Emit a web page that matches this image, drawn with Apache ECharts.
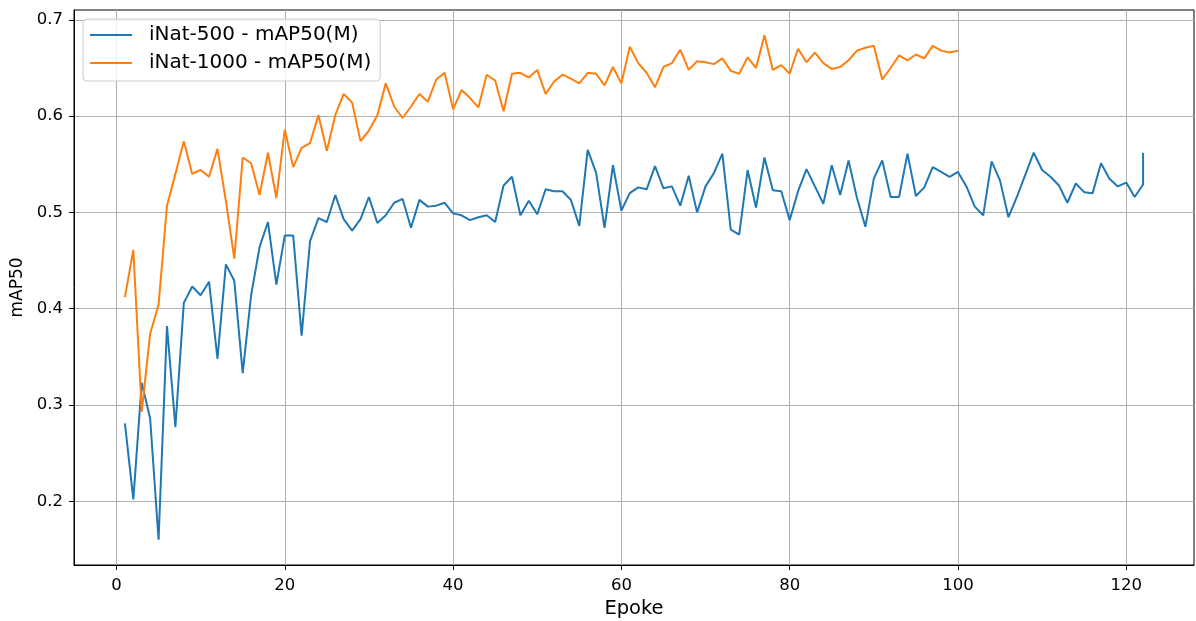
<!DOCTYPE html>
<html>
<head>
<meta charset="utf-8">
<script src="https://cdn.jsdelivr.net/npm/echarts@6/dist/echarts.min.js"></script>
<style>
  html, body { margin: 0; padding: 0; background: #fff; }
  #chart { width: 1196px; height: 621px; }
</style>
</head>
<body>
<div id="chart"></div>
<script>
// Epochs (the 500-image run logs its final epoch twice)
const epochs500 = [
  1,2,3,4,5,6,7,8,9,10,11,12,13,14,15,16,17,18,19,20,
  21,22,23,24,25,26,27,28,29,30,31,32,33,34,35,36,37,38,39,40,
  41,42,43,44,45,46,47,48,49,50,51,52,53,54,55,56,57,58,59,60,
  61,62,63,64,65,66,67,68,69,70,71,72,73,74,75,76,77,78,79,80,
  81,82,83,84,85,86,87,88,89,90,91,92,93,94,95,96,97,98,99,100,
  101,102,103,104,105,106,107,108,109,110,111,112,113,114,115,116,117,118,119,120,
  121,122,122
];
const map500 = [
  0.281,0.202,0.323,0.286,0.160,0.382,0.277,0.406,0.423,0.414,
  0.428,0.348,0.446,0.429,0.333,0.414,0.464,0.490,0.425,0.476,
  0.476,0.372,0.470,0.494,0.490,0.518,0.493,0.481,0.493,0.516,
  0.489,0.497,0.510,0.514,0.484,0.513,0.506,0.507,0.510,0.499,
  0.497,0.492,0.495,0.497,0.490,0.528,0.537,0.497,0.512,0.498,
  0.524,0.522,0.522,0.513,0.486,0.565,0.541,0.484,0.549,0.502,
  0.520,0.526,0.524,0.548,0.525,0.527,0.507,0.538,0.500,0.527,
  0.541,0.561,0.482,0.477,0.544,0.505,0.557,0.523,0.522,0.492,
  0.522,0.545,0.527,0.509,0.549,0.518,0.554,0.515,0.485,0.535,
  0.554,0.516,0.516,0.561,0.517,0.526,0.547,0.542,0.537,0.542,
  0.527,0.506,0.497,0.553,0.533,0.495,0.516,0.539,0.562,0.544,
  0.537,0.528,0.510,0.530,0.521,0.520,0.551,0.535,0.527,0.531,
  0.516,0.529,0.562
];

const epochs1000 = [
  1,2,3,4,5,6,7,8,9,10,11,12,13,14,15,16,17,18,19,20,
  21,22,23,24,25,26,27,28,29,30,31,32,33,34,35,36,37,38,39,40,
  41,42,43,44,45,46,47,48,49,50,51,52,53,54,55,56,57,58,59,60,
  61,62,63,64,65,66,67,68,69,70,71,72,73,74,75,76,77,78,79,80,
  81,82,83,84,85,86,87,88,89,90,91,92,93,94,95,96,97,98,99,100
];
const map1000 = [
  0.412,0.461,0.293,0.374,0.404,0.507,0.540,0.574,0.540,0.544,
  0.537,0.566,0.512,0.452,0.557,0.551,0.518,0.562,0.515,0.586,
  0.547,0.567,0.572,0.601,0.564,0.601,0.623,0.614,0.574,0.585,
  0.601,0.634,0.610,0.598,0.610,0.623,0.615,0.638,0.645,0.607,
  0.627,0.619,0.609,0.643,0.637,0.605,0.644,0.645,0.640,0.648,
  0.623,0.636,0.643,0.639,0.634,0.645,0.644,0.632,0.651,0.634,
  0.672,0.655,0.645,0.630,0.651,0.655,0.669,0.648,0.657,0.656,
  0.654,0.660,0.647,0.644,0.661,0.650,0.684,0.648,0.653,0.644,
  0.670,0.656,0.666,0.655,0.649,0.651,0.658,0.668,0.671,0.673,
  0.638,0.650,0.663,0.658,0.664,0.660,0.673,0.668,0.666,0.668
];

const xTicks = [0, 20, 40, 60, 80, 100, 120];
const yTicks = [0.2, 0.3, 0.4, 0.5, 0.6, 0.7];

const seriesNames = ['iNat-500 - mAP50(M)', 'iNat-1000 - mAP50(M)'];
const xTitle = 'Epoke';
const yTitle = 'mAP50';

const FONT = 'DejaVu Sans';

function pairs(xs, ys) {
  return xs.map((x, i) => [x, ys[i]]);
}

const chart = echarts.init(document.getElementById('chart'), null, { renderer: 'canvas' });

chart.setOption({
  animation: false,
  backgroundColor: '#ffffff',
  grid: {
    left: 74, right: 2, top: 10, bottom: 56,
    outerBoundsMode: 'none',
    containLabel: false,
    show: true, borderColor: '#000', borderWidth: 1, backgroundColor: 'transparent'
  },
  legend: {
    left: 83, top: 19,
    orient: 'vertical',
    data: seriesNames,
    icon: 'rect',
    itemWidth: 42, itemHeight: 2, itemGap: 8,
    padding: [6, 9, 8, 7],
    backgroundColor: 'rgba(255,255,255,0.8)',
    borderColor: '#cccccc', borderWidth: 1, borderRadius: 4,
    textStyle: {
      fontFamily: FONT, fontSize: 20, lineHeight: 20, color: '#000',
      padding: [0, 0, 0, 12]
    }
  },
  xAxis: {
    type: 'value',
    min: -5.05, max: 128.05,
    name: xTitle, nameLocation: 'middle', nameGap: 33,
    nameTextStyle: { fontFamily: FONT, fontSize: 19.5, color: '#000' },
    axisLine: { show: true, onZero: false, lineStyle: { color: '#000', width: 1 } },
    axisTick: { show: true, inside: false, length: 5, customValues: xTicks, lineStyle: { color: '#000', width: 1 } },
    axisLabel: { customValues: xTicks, fontFamily: FONT, fontSize: 16.5, color: '#000', margin: 12 },
    splitLine: { show: true, lineStyle: { color: '#b0b0b0', width: 1 } }
  },
  yAxis: {
    type: 'value',
    min: 0.1338, max: 0.7102,
    name: yTitle, nameLocation: 'middle', nameGap: 48, nameRotate: 90,
    nameTextStyle: { fontFamily: FONT, fontSize: 17, color: '#000' },
    axisLine: { show: true, onZero: false, lineStyle: { color: '#000', width: 1 } },
    axisTick: { show: true, inside: false, length: 5, customValues: yTicks, lineStyle: { color: '#000', width: 1 } },
    axisLabel: {
      customValues: yTicks, fontFamily: FONT, fontSize: 16.5, color: '#000', margin: 11,
      formatter: v => v.toFixed(1)
    },
    splitLine: { show: true, lineStyle: { color: '#b0b0b0', width: 1 } }
  },
  series: [
    {
      name: seriesNames[0], type: 'line',
      data: pairs(epochs500, map500),
      symbol: 'none', color: '#1f77b4',
      lineStyle: { width: 2, color: '#1f77b4' }
    },
    {
      name: seriesNames[1], type: 'line',
      data: pairs(epochs1000, map1000),
      symbol: 'none', color: '#ff7f0e',
      lineStyle: { width: 2, color: '#ff7f0e' }
    }
  ]
});
</script>
</body>
</html>
